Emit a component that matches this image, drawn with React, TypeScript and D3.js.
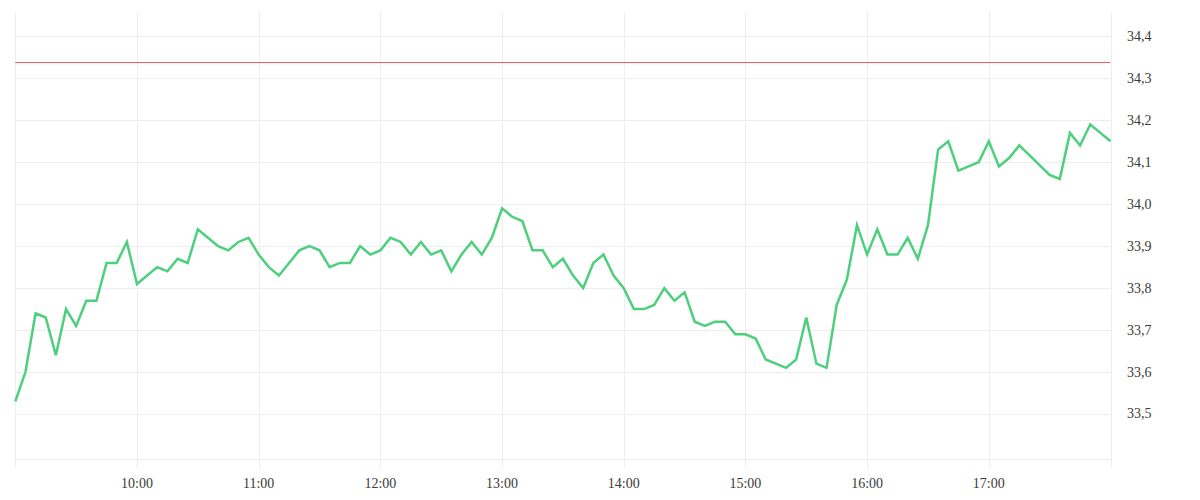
import React, { useEffect, useRef } from "react";
import * as d3 from "d3";

// 5-minute closes, 09:00 → 18:00
const prices = [
    33.53, 33.60, 33.74, 33.73, 33.64, 33.75, 33.71, 33.77, 33.77, 33.86, 33.86, 33.91,
    33.81, 33.83, 33.85, 33.84, 33.87, 33.86, 33.94, 33.92, 33.90, 33.89, 33.91, 33.92,
    33.88, 33.85, 33.83, 33.86, 33.89, 33.90, 33.89, 33.85, 33.86, 33.86, 33.90, 33.88,
    33.89, 33.92, 33.91, 33.88, 33.91, 33.88, 33.89, 33.84, 33.88, 33.91, 33.88, 33.92,
    33.99, 33.97, 33.96, 33.89, 33.89, 33.85, 33.87, 33.83, 33.80, 33.86, 33.88, 33.83,
    33.80, 33.75, 33.75, 33.76, 33.80, 33.77, 33.79, 33.72, 33.71, 33.72, 33.72, 33.69,
    33.69, 33.68, 33.63, 33.62, 33.61, 33.63, 33.73, 33.62, 33.61, 33.76, 33.82, 33.95,
    33.88, 33.94, 33.88, 33.88, 33.92, 33.87, 33.95, 34.13, 34.15, 34.08, 34.09, 34.10,
    34.15, 34.09, 34.11, 34.14, 34.117, 34.093, 34.07, 34.06, 34.17, 34.14, 34.19, 34.17,
    34.15,
];
const sessionStart = "09:00";
const sessionEnd = "18:00";
const hourTicks = ["10:00", "11:00", "12:00", "13:00", "14:00", "15:00", "16:00", "17:00"];
const priceTicks = [33.5, 33.6, 33.7, 33.8, 33.9, 34.0, 34.1, 34.2, 34.3, 34.4];
const referencePrice = 34.34;
const priceDomain = [33.394, 34.458];

const W = 1200;
const H = 500;
const plot = { left: 15.3, right: 1110.5, top: 12, bottom: 458.5 };

const parseT = d3.timeParse("%Y-%m-%d %H:%M");
const day = "2024-01-02";
const toDate = (s: string) => parseT(`${day} ${s}`) as Date;

const comma = d3.formatLocale({ decimal: ",", thousands: ".", grouping: [3], currency: ["", ""] }).format(".1f");

export default function App() {
    const svgRef = useRef<SVGSVGElement>(null);

    useEffect(() => {
        if (!svgRef.current) return;
        const svg = d3.select(svgRef.current);
        svg.selectAll("*").remove();

        const t0 = toDate(sessionStart);
        const t1 = toDate(sessionEnd);
        const times = d3.timeMinute.every(5)!.range(t0, new Date(+t1 + 1));
        const data = times.map((t, i) => ({ t, v: prices[i] }));

        const x = d3.scaleTime().domain([t0, t1]).range([plot.left, plot.right]);
        const y = d3.scaleLinear().domain(priceDomain).range([plot.bottom, plot.top]);

        const grid = svg.append("g").attr("stroke", "#eeeeee").attr("stroke-width", 1);

        // horizontal grid
        grid.selectAll("line.h")
            .data(priceTicks)
            .join("line")
            .attr("class", "h")
            .attr("x1", plot.left)
            .attr("x2", plot.right)
            .attr("y1", d => Math.round(y(d)) + 0.5)
            .attr("y2", d => Math.round(y(d)) + 0.5);
        grid.append("line")
            .attr("x1", plot.left).attr("x2", plot.right)
            .attr("y1", Math.round(plot.bottom) + 0.5).attr("y2", Math.round(plot.bottom) + 0.5);

        // vertical grid, incl. session edges
        const vTimes = [t0, ...hourTicks.map(toDate), t1];
        grid.selectAll("line.v")
            .data(vTimes)
            .join("line")
            .attr("class", "v")
            .attr("x1", d => Math.round(x(d)) + 0.5)
            .attr("x2", d => Math.round(x(d)) + 0.5)
            .attr("y1", plot.top)
            .attr("y2", plot.bottom + 10);

        // reference line
        svg.append("line")
            .attr("x1", plot.left)
            .attr("x2", plot.right)
            .attr("y1", Math.round(y(referencePrice)) + 0.5)
            .attr("y2", Math.round(y(referencePrice)) + 0.5)
            .attr("stroke", "#ff5a5f")
            .attr("stroke-width", 1);

        const line = d3.line<{ t: Date; v: number }>()
            .x(d => x(d.t))
            .y(d => y(d.v));

        svg.append("path")
            .datum(data)
            .attr("d", line)
            .attr("fill", "none")
            .attr("stroke", "#4cd07d")
            .attr("stroke-width", 2.5)
            .attr("stroke-linejoin", "miter");

        const font = "'Liberation Serif', 'Times New Roman', serif";

        svg.append("g")
            .selectAll("text")
            .data(hourTicks)
            .join("text")
            .attr("x", d => x(toDate(d)))
            .attr("y", 488)
            .attr("text-anchor", "middle")
            .style("font-family", font)
            .style("font-size", "14px")
            .attr("fill", "#3a3a3a")
            .text(d => d);

        svg.append("g")
            .selectAll("text")
            .data(priceTicks)
            .join("text")
            .attr("x", 1127)
            .attr("y", d => y(d))
            .attr("dy", "0.32em")
            .style("font-family", font)
            .style("font-size", "14px")
            .attr("fill", "#3a3a3a")
            .text(d => comma(d));
    }, []);

    return (
        <div style={{ position: "fixed", left: 0, top: 0, width: W, height: H, background: "#fff" }}>
            <svg ref={svgRef} width={W} height={H} style={{ display: "block" }} />
        </div>
    );
}
